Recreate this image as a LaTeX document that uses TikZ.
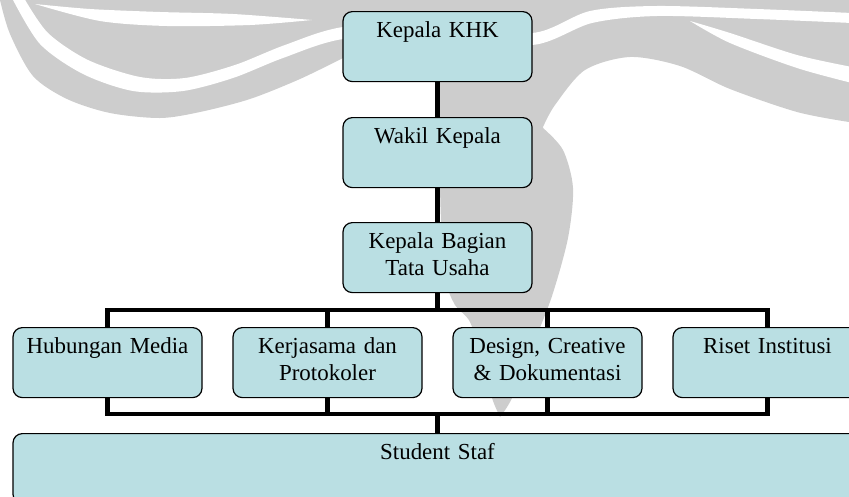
\documentclass[tikz,border=0pt]{standalone}
\usepackage{fontspec}
\setmainfont{Liberation Serif}
\usepackage{tikz}

\definecolor{boxfill}{RGB}{186,223,227}
\definecolor{wmgray}{RGB}{205,205,205}

\begin{document}
\begin{tikzpicture}[x=0.75pt, y=-0.75pt]
        \tikzset{boxes/.style={draw, rounded corners=7pt, fill=boxfill, line width=0.9pt,
                 anchor=north, inner sep=0pt, text width=141.75pt, align=center,
                 text height=19.5pt, text depth=33pt,
                 font=\fontsize{17.2}{20.25}\selectfont},
                 widebox/.style={boxes, text width=636.75pt},
                 lines/.style={line width=3.6pt}}
        \useasboundingbox (0,0) rectangle (849,496);
        \clip (0,0) rectangle (849,496);
        % watermark
        \fill[wmgray] (0,0) -- (849,0) -- (849,122)
            -- plot[smooth] coordinates {(849,122) (797,112) (730,89) (680,66) (630,57) (585,70) (555,105) (543,127)}
            -- plot[smooth] coordinates {(543,128) (563,150) (573,188) (568,238) (552,296) (533,345) (512,398) (500,417)}
            -- plot[smooth] coordinates {(500,417) (492,398) (482,360) (470,322) (455,305) (446,280) (441,220) (439,140) (437,80)}
            -- (343,58)
            -- plot[smooth] coordinates {(343,58) (300,79) (250,99) (200,112) (160,118) (110,113) (67,99) (33,76) (10,34) (0,0)}
            -- cycle;
        \fill[white] plot[smooth] coordinates {(24,-2) (48,33) (88,60) (140,77) (185,78) (235,65) (285,45) (343,27) (440,22) (532,33) (590,11) (657,6) (757,9) (852,13)}
            -- plot[smooth] coordinates {(852,23) (757,19) (657,16) (592,23) (532,45) (440,34) (343,39) (283,58) (233,78) (183,91) (133,91) (83,74) (40,44) (12,-2)}
            -- cycle;
        \fill[white] plot[smooth] coordinates {(35,4) (90,9) (160,12) (233,14) (312,20)}
            -- plot[smooth] coordinates {(312,20) (250,25) (167,26) (100,21) (35,4)} -- cycle;
        \fill[white] plot[smooth] coordinates {(690,21) (730,33) (797,55) (852,67)}
            -- plot[smooth] coordinates {(852,83) (797,68) (730,43) (690,21)} -- cycle;
        % chart
        \node [boxes] (1) at (437.5, 11) {Kepala KHK};
        \node [boxes] (2) at (437.5,117) {Wakil Kepala};
        \node [boxes] (3) at (437.5,222) {Kepala Bagian\\Tata Usaha};
        \node [boxes] (4) at (107.5,327) {Hubungan Media};
        \node [boxes] (5) at (327.5,327) {Kerjasama dan\\Protokoler};
        \node [boxes] (6) at (547.5,327) {Design, Creative\\\& Dokumentasi};
        \node [boxes] (7) at (767.5,327) {Riset Institusi};
        \node [widebox] (8) at (437.5,433) {Student Staf};
        \coordinate (bus1) at (437.5,310);
        \coordinate (bus2) at (437.5,414);
        \draw [lines] (1.south) -- (2.north);
        \draw [lines] (2.south) -- (3.north);
        \draw [lines] (3.south) -- (bus1);
        \draw [lines] (4.north) |- (bus1) -| (7.north);
        \draw [lines] (5.north) -- (5.north |- bus1);
        \draw [lines] (6.north) -- (6.north |- bus1);
        \draw [lines] (4.south) |- (bus2) -| (7.south);
        \draw [lines] (5.south) -- (5.south |- bus2);
        \draw [lines] (6.south) -- (6.south |- bus2);
        \draw [lines] (bus2) -- (8.north);
    \end{tikzpicture}
\end{document}
